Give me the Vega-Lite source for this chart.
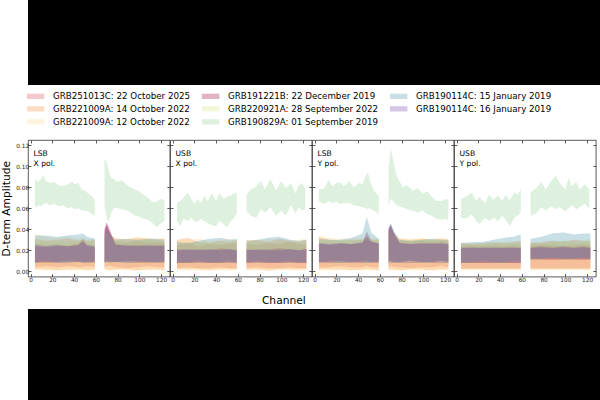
{
  "$schema": "https://vega.github.io/schema/vega-lite/v6.json",
  "padding": 0,
  "background": "white",
  "spacing": 0,
  "config": {
    "font": "DejaVu Sans",
    "view": {"stroke": "#333333", "strokeWidth": 0.8},
    "axis": {
      "grid": false, "domain": false, "tickColor": "#333333", "tickSize": -3, "tickWidth": 0.8, "minExtent": 0,
      "labelFont": "DejaVu Sans", "labelFontSize": 5.8, "labelColor": "#222222", "labelPadding": 2.4,
      "titleFont": "DejaVu Sans", "titleFontWeight": "normal", "titleColor": "#000000", "labelFlush": false
    },
    "legend": {
      "symbolType": "M-2.175,-0.66H2.175V0.66H-2.175Z", "symbolSize": 64, "symbolOpacity": 0.3,
      "symbolStrokeWidth": 0, "labelFont": "DejaVu Sans", "labelFontSize": 8.7, "labelColor": "#000000",
      "labelOffset": 12.9, "rowPadding": 3.0, "columnPadding": 11, "padding": 0, "labelLimit": 300
    }
  },
  "datasets": {
    "LX": [
      {"s":"A","g":1,"c":4,"l":0.004,"h":0.026},{"s":"A","g":1,"c":14,"l":0.005,"h":0.025},{"s":"A","g":1,"c":24,"l":0.004,"h":0.026},{"s":"A","g":1,"c":34,"l":0.005,"h":0.025},{"s":"A","g":1,"c":44,"l":0.004,"h":0.027},{"s":"A","g":1,"c":48,"l":0.004,"h":0.029},{"s":"A","g":1,"c":52,"l":0.005,"h":0.026},{"s":"A","g":1,"c":59,"l":0.004,"h":0.025},
      {"s":"A","g":2,"c":68,"l":0.004,"h":0.037},{"s":"A","g":2,"c":70,"l":0.005,"h":0.045},{"s":"A","g":2,"c":73,"l":0.005,"h":0.036},{"s":"A","g":2,"c":78,"l":0.004,"h":0.028},{"s":"A","g":2,"c":88,"l":0.003,"h":0.027},{"s":"A","g":2,"c":98,"l":0.004,"h":0.029},{"s":"A","g":2,"c":108,"l":0.005,"h":0.027},{"s":"A","g":2,"c":116,"l":0.004,"h":0.028},{"s":"A","g":2,"c":123,"l":0.004,"h":0.027},
      {"s":"B","g":1,"c":4,"l":0.002,"h":0.031},{"s":"B","g":1,"c":14,"l":0.002,"h":0.029},{"s":"B","g":1,"c":24,"l":0.001,"h":0.030},{"s":"B","g":1,"c":34,"l":0.002,"h":0.031},{"s":"B","g":1,"c":44,"l":0.002,"h":0.029},{"s":"B","g":1,"c":48,"l":0.002,"h":0.030},{"s":"B","g":1,"c":52,"l":0.001,"h":0.029},{"s":"B","g":1,"c":59,"l":0.002,"h":0.030},
      {"s":"B","g":2,"c":68,"l":0.002,"h":0.034},{"s":"B","g":2,"c":70,"l":0.002,"h":0.041},{"s":"B","g":2,"c":73,"l":0.001,"h":0.035},{"s":"B","g":2,"c":78,"l":0.002,"h":0.031},{"s":"B","g":2,"c":88,"l":0.002,"h":0.030},{"s":"B","g":2,"c":98,"l":0.001,"h":0.032},{"s":"B","g":2,"c":108,"l":0.002,"h":0.031},{"s":"B","g":2,"c":116,"l":0.002,"h":0.030},{"s":"B","g":2,"c":123,"l":0.001,"h":0.031},
      {"s":"C","g":1,"c":4,"l":0.001,"h":0.036},{"s":"C","g":1,"c":14,"l":0.0005,"h":0.033},{"s":"C","g":1,"c":24,"l":0.001,"h":0.032},{"s":"C","g":1,"c":34,"l":0.001,"h":0.033},{"s":"C","g":1,"c":44,"l":0.0005,"h":0.031},{"s":"C","g":1,"c":48,"l":0.001,"h":0.032},{"s":"C","g":1,"c":52,"l":0.001,"h":0.030},{"s":"C","g":1,"c":59,"l":0.0005,"h":0.031},
      {"s":"C","g":2,"c":68,"l":0.001,"h":0.034},{"s":"C","g":2,"c":70,"l":0.001,"h":0.039},{"s":"C","g":2,"c":73,"l":0.0005,"h":0.034},{"s":"C","g":2,"c":78,"l":0.001,"h":0.032},{"s":"C","g":2,"c":88,"l":0.001,"h":0.031},{"s":"C","g":2,"c":98,"l":0.0005,"h":0.033},{"s":"C","g":2,"c":108,"l":0.001,"h":0.032},{"s":"C","g":2,"c":116,"l":0.001,"h":0.031},{"s":"C","g":2,"c":123,"l":0.0005,"h":0.032},
      {"s":"D","g":1,"c":4,"l":0.009,"h":0.024},{"s":"D","g":1,"c":14,"l":0.008,"h":0.023},{"s":"D","g":1,"c":24,"l":0.009,"h":0.024},{"s":"D","g":1,"c":34,"l":0.010,"h":0.024},{"s":"D","g":1,"c":44,"l":0.009,"h":0.025},{"s":"D","g":1,"c":48,"l":0.009,"h":0.031},{"s":"D","g":1,"c":52,"l":0.009,"h":0.024},{"s":"D","g":1,"c":59,"l":0.008,"h":0.023},
      {"s":"D","g":2,"c":68,"l":0.009,"h":0.041},{"s":"D","g":2,"c":70,"l":0.010,"h":0.047},{"s":"D","g":2,"c":73,"l":0.009,"h":0.039},{"s":"D","g":2,"c":78,"l":0.009,"h":0.026},{"s":"D","g":2,"c":88,"l":0.010,"h":0.024},{"s":"D","g":2,"c":98,"l":0.009,"h":0.025},{"s":"D","g":2,"c":108,"l":0.008,"h":0.024},{"s":"D","g":2,"c":116,"l":0.009,"h":0.025},{"s":"D","g":2,"c":123,"l":0.009,"h":0.024},
      {"s":"E","g":1,"c":4,"l":0.008,"h":0.029},{"s":"E","g":1,"c":14,"l":0.007,"h":0.028},{"s":"E","g":1,"c":24,"l":0.008,"h":0.029},{"s":"E","g":1,"c":34,"l":0.008,"h":0.028},{"s":"E","g":1,"c":44,"l":0.007,"h":0.029},{"s":"E","g":1,"c":48,"l":0.008,"h":0.030},{"s":"E","g":1,"c":52,"l":0.008,"h":0.028},{"s":"E","g":1,"c":59,"l":0.007,"h":0.029},
      {"s":"E","g":2,"c":68,"l":0.008,"h":0.033},{"s":"E","g":2,"c":70,"l":0.008,"h":0.038},{"s":"E","g":2,"c":73,"l":0.007,"h":0.033},{"s":"E","g":2,"c":78,"l":0.008,"h":0.029},{"s":"E","g":2,"c":88,"l":0.008,"h":0.028},{"s":"E","g":2,"c":98,"l":0.007,"h":0.029},{"s":"E","g":2,"c":108,"l":0.008,"h":0.030},{"s":"E","g":2,"c":116,"l":0.008,"h":0.029},{"s":"E","g":2,"c":123,"l":0.007,"h":0.028},
      {"s":"F","g":1,"c":4,"l":0.061,"h":0.088},{"s":"F","g":1,"c":7,"l":0.063,"h":0.085},{"s":"F","g":1,"c":10,"l":0.062,"h":0.089},{"s":"F","g":1,"c":12,"l":0.064,"h":0.092},{"s":"F","g":1,"c":14,"l":0.065,"h":0.086},{"s":"F","g":1,"c":18,"l":0.063,"h":0.084},{"s":"F","g":1,"c":22,"l":0.064,"h":0.085},{"s":"F","g":1,"c":26,"l":0.062,"h":0.082},{"s":"F","g":1,"c":30,"l":0.063,"h":0.081},{"s":"F","g":1,"c":34,"l":0.060,"h":0.083},{"s":"F","g":1,"c":38,"l":0.061,"h":0.085},{"s":"F","g":1,"c":41,"l":0.059,"h":0.083},{"s":"F","g":1,"c":44,"l":0.060,"h":0.084},{"s":"F","g":1,"c":47,"l":0.058,"h":0.078},{"s":"F","g":1,"c":50,"l":0.058,"h":0.077},{"s":"F","g":1,"c":53,"l":0.057,"h":0.074},{"s":"F","g":1,"c":56,"l":0.055,"h":0.072},{"s":"F","g":1,"c":59,"l":0.053,"h":0.068},
      {"s":"F","g":2,"c":68,"l":0.062,"h":0.107},{"s":"F","g":2,"c":70,"l":0.050,"h":0.104},{"s":"F","g":2,"c":72,"l":0.047,"h":0.095},{"s":"F","g":2,"c":74,"l":0.055,"h":0.089},{"s":"F","g":2,"c":77,"l":0.061,"h":0.088},{"s":"F","g":2,"c":80,"l":0.060,"h":0.085},{"s":"F","g":2,"c":84,"l":0.059,"h":0.087},{"s":"F","g":2,"c":88,"l":0.058,"h":0.083},{"s":"F","g":2,"c":92,"l":0.056,"h":0.080},{"s":"F","g":2,"c":96,"l":0.053,"h":0.078},{"s":"F","g":2,"c":100,"l":0.052,"h":0.076},{"s":"F","g":2,"c":104,"l":0.050,"h":0.073},{"s":"F","g":2,"c":108,"l":0.049,"h":0.070},{"s":"F","g":2,"c":112,"l":0.046,"h":0.066},{"s":"F","g":2,"c":116,"l":0.042,"h":0.066},{"s":"F","g":2,"c":119,"l":0.045,"h":0.069},{"s":"F","g":2,"c":123,"l":0.048,"h":0.068},
      {"s":"G","g":1,"c":4,"l":0.009,"h":0.034},{"s":"G","g":1,"c":14,"l":0.010,"h":0.034},{"s":"G","g":1,"c":24,"l":0.009,"h":0.033},{"s":"G","g":1,"c":34,"l":0.009,"h":0.034},{"s":"G","g":1,"c":44,"l":0.010,"h":0.035},{"s":"G","g":1,"c":48,"l":0.009,"h":0.036},{"s":"G","g":1,"c":52,"l":0.009,"h":0.033},{"s":"G","g":1,"c":59,"l":0.010,"h":0.031},
      {"s":"G","g":2,"c":68,"l":0.009,"h":0.033},{"s":"G","g":2,"c":70,"l":0.009,"h":0.040},{"s":"G","g":2,"c":73,"l":0.010,"h":0.034},{"s":"G","g":2,"c":78,"l":0.009,"h":0.030},{"s":"G","g":2,"c":88,"l":0.009,"h":0.031},{"s":"G","g":2,"c":98,"l":0.010,"h":0.030},{"s":"G","g":2,"c":108,"l":0.009,"h":0.031},{"s":"G","g":2,"c":116,"l":0.009,"h":0.031},{"s":"G","g":2,"c":123,"l":0.010,"h":0.030},
      {"s":"H","g":1,"c":4,"l":0.008,"h":0.025},{"s":"H","g":1,"c":14,"l":0.009,"h":0.024},{"s":"H","g":1,"c":24,"l":0.008,"h":0.025},{"s":"H","g":1,"c":34,"l":0.008,"h":0.024},{"s":"H","g":1,"c":44,"l":0.009,"h":0.025},{"s":"H","g":1,"c":48,"l":0.008,"h":0.028},{"s":"H","g":1,"c":52,"l":0.008,"h":0.025},{"s":"H","g":1,"c":59,"l":0.009,"h":0.024},
      {"s":"H","g":2,"c":68,"l":0.008,"h":0.039},{"s":"H","g":2,"c":70,"l":0.009,"h":0.044},{"s":"H","g":2,"c":73,"l":0.008,"h":0.037},{"s":"H","g":2,"c":78,"l":0.009,"h":0.025},{"s":"H","g":2,"c":88,"l":0.008,"h":0.025},{"s":"H","g":2,"c":98,"l":0.008,"h":0.024},{"s":"H","g":2,"c":108,"l":0.009,"h":0.025},{"s":"H","g":2,"c":116,"l":0.008,"h":0.024},{"s":"H","g":2,"c":123,"l":0.008,"h":0.025}
    ],
    "UX": [
      {"s":"A","g":1,"c":4,"l":0.003,"h":0.025},{"s":"A","g":1,"c":14,"l":0.004,"h":0.027},{"s":"A","g":1,"c":24,"l":0.003,"h":0.024},{"s":"A","g":1,"c":34,"l":0.003,"h":0.026},{"s":"A","g":1,"c":44,"l":0.004,"h":0.025},{"s":"A","g":1,"c":52,"l":0.003,"h":0.026},{"s":"A","g":1,"c":59,"l":0.003,"h":0.027},
      {"s":"A","g":2,"c":68,"l":0.003,"h":0.026},{"s":"A","g":2,"c":78,"l":0.004,"h":0.025},{"s":"A","g":2,"c":88,"l":0.003,"h":0.027},{"s":"A","g":2,"c":98,"l":0.003,"h":0.026},{"s":"A","g":2,"c":108,"l":0.004,"h":0.028},{"s":"A","g":2,"c":116,"l":0.003,"h":0.026},{"s":"A","g":2,"c":123,"l":0.003,"h":0.025},
      {"s":"B","g":1,"c":4,"l":0.002,"h":0.030},{"s":"B","g":1,"c":14,"l":0.002,"h":0.032},{"s":"B","g":1,"c":24,"l":0.002,"h":0.028},{"s":"B","g":1,"c":34,"l":0.001,"h":0.027},{"s":"B","g":1,"c":44,"l":0.002,"h":0.029},{"s":"B","g":1,"c":52,"l":0.002,"h":0.028},{"s":"B","g":1,"c":59,"l":0.002,"h":0.030},
      {"s":"B","g":2,"c":68,"l":0.002,"h":0.029},{"s":"B","g":2,"c":78,"l":0.002,"h":0.030},{"s":"B","g":2,"c":88,"l":0.001,"h":0.028},{"s":"B","g":2,"c":98,"l":0.002,"h":0.031},{"s":"B","g":2,"c":108,"l":0.002,"h":0.029},{"s":"B","g":2,"c":116,"l":0.002,"h":0.028},{"s":"B","g":2,"c":123,"l":0.002,"h":0.030},
      {"s":"C","g":1,"c":4,"l":0.001,"h":0.029},{"s":"C","g":1,"c":14,"l":0.001,"h":0.030},{"s":"C","g":1,"c":24,"l":0.0005,"h":0.031},{"s":"C","g":1,"c":34,"l":0.001,"h":0.029},{"s":"C","g":1,"c":44,"l":0.001,"h":0.030},{"s":"C","g":1,"c":52,"l":0.0005,"h":0.031},{"s":"C","g":1,"c":59,"l":0.001,"h":0.029},
      {"s":"C","g":2,"c":68,"l":0.001,"h":0.030},{"s":"C","g":2,"c":78,"l":0.001,"h":0.029},{"s":"C","g":2,"c":88,"l":0.0005,"h":0.031},{"s":"C","g":2,"c":98,"l":0.001,"h":0.030},{"s":"C","g":2,"c":108,"l":0.001,"h":0.029},{"s":"C","g":2,"c":116,"l":0.0005,"h":0.030},{"s":"C","g":2,"c":123,"l":0.001,"h":0.031},
      {"s":"D","g":1,"c":4,"l":0.008,"h":0.021},{"s":"D","g":1,"c":14,"l":0.008,"h":0.020},{"s":"D","g":1,"c":24,"l":0.009,"h":0.021},{"s":"D","g":1,"c":34,"l":0.008,"h":0.020},{"s":"D","g":1,"c":44,"l":0.008,"h":0.022},{"s":"D","g":1,"c":52,"l":0.009,"h":0.021},{"s":"D","g":1,"c":59,"l":0.008,"h":0.020},
      {"s":"D","g":2,"c":68,"l":0.008,"h":0.021},{"s":"D","g":2,"c":78,"l":0.009,"h":0.020},{"s":"D","g":2,"c":88,"l":0.008,"h":0.021},{"s":"D","g":2,"c":98,"l":0.008,"h":0.022},{"s":"D","g":2,"c":108,"l":0.009,"h":0.021},{"s":"D","g":2,"c":116,"l":0.008,"h":0.020},{"s":"D","g":2,"c":123,"l":0.008,"h":0.021},
      {"s":"E","g":1,"c":4,"l":0.008,"h":0.027},{"s":"E","g":1,"c":14,"l":0.007,"h":0.026},{"s":"E","g":1,"c":24,"l":0.008,"h":0.028},{"s":"E","g":1,"c":34,"l":0.008,"h":0.027},{"s":"E","g":1,"c":44,"l":0.007,"h":0.026},{"s":"E","g":1,"c":52,"l":0.008,"h":0.027},{"s":"E","g":1,"c":59,"l":0.008,"h":0.028},
      {"s":"E","g":2,"c":68,"l":0.008,"h":0.027},{"s":"E","g":2,"c":78,"l":0.007,"h":0.028},{"s":"E","g":2,"c":88,"l":0.008,"h":0.026},{"s":"E","g":2,"c":98,"l":0.008,"h":0.027},{"s":"E","g":2,"c":108,"l":0.007,"h":0.028},{"s":"E","g":2,"c":116,"l":0.008,"h":0.027},{"s":"E","g":2,"c":123,"l":0.008,"h":0.026},
      {"s":"F","g":1,"c":4,"l":0.048,"h":0.065},{"s":"F","g":1,"c":7,"l":0.043,"h":0.067},{"s":"F","g":1,"c":10,"l":0.050,"h":0.070},{"s":"F","g":1,"c":14,"l":0.048,"h":0.075},{"s":"F","g":1,"c":17,"l":0.051,"h":0.069},{"s":"F","g":1,"c":20,"l":0.048,"h":0.064},{"s":"F","g":1,"c":23,"l":0.047,"h":0.069},{"s":"F","g":1,"c":26,"l":0.050,"h":0.065},{"s":"F","g":1,"c":29,"l":0.048,"h":0.072},{"s":"F","g":1,"c":32,"l":0.046,"h":0.067},{"s":"F","g":1,"c":36,"l":0.044,"h":0.074},{"s":"F","g":1,"c":40,"l":0.043,"h":0.067},{"s":"F","g":1,"c":43,"l":0.048,"h":0.074},{"s":"F","g":1,"c":47,"l":0.045,"h":0.069},{"s":"F","g":1,"c":50,"l":0.042,"h":0.071},{"s":"F","g":1,"c":53,"l":0.047,"h":0.072},{"s":"F","g":1,"c":56,"l":0.050,"h":0.074},{"s":"F","g":1,"c":59,"l":0.055,"h":0.075},
      {"s":"F","g":2,"c":68,"l":0.058,"h":0.073},{"s":"F","g":2,"c":72,"l":0.053,"h":0.078},{"s":"F","g":2,"c":77,"l":0.051,"h":0.081},{"s":"F","g":2,"c":81,"l":0.059,"h":0.086},{"s":"F","g":2,"c":85,"l":0.056,"h":0.078},{"s":"F","g":2,"c":90,"l":0.061,"h":0.088},{"s":"F","g":2,"c":95,"l":0.053,"h":0.077},{"s":"F","g":2,"c":100,"l":0.058,"h":0.086},{"s":"F","g":2,"c":104,"l":0.053,"h":0.079},{"s":"F","g":2,"c":109,"l":0.063,"h":0.084},{"s":"F","g":2,"c":113,"l":0.055,"h":0.074},{"s":"F","g":2,"c":116,"l":0.061,"h":0.082},{"s":"F","g":2,"c":119,"l":0.058,"h":0.084},{"s":"F","g":2,"c":122,"l":0.059,"h":0.079},
      {"s":"G","g":1,"c":4,"l":0.009,"h":0.028},{"s":"G","g":1,"c":14,"l":0.009,"h":0.027},{"s":"G","g":1,"c":24,"l":0.010,"h":0.029},{"s":"G","g":1,"c":34,"l":0.009,"h":0.031},{"s":"G","g":1,"c":44,"l":0.009,"h":0.032},{"s":"G","g":1,"c":52,"l":0.010,"h":0.030},{"s":"G","g":1,"c":59,"l":0.009,"h":0.031},
      {"s":"G","g":2,"c":68,"l":0.009,"h":0.029},{"s":"G","g":2,"c":78,"l":0.010,"h":0.030},{"s":"G","g":2,"c":88,"l":0.009,"h":0.032},{"s":"G","g":2,"c":98,"l":0.009,"h":0.033},{"s":"G","g":2,"c":108,"l":0.010,"h":0.030},{"s":"G","g":2,"c":116,"l":0.009,"h":0.029},{"s":"G","g":2,"c":123,"l":0.009,"h":0.030},
      {"s":"H","g":1,"c":4,"l":0.008,"h":0.020},{"s":"H","g":1,"c":14,"l":0.008,"h":0.021},{"s":"H","g":1,"c":24,"l":0.008,"h":0.020},{"s":"H","g":1,"c":34,"l":0.008,"h":0.021},{"s":"H","g":1,"c":44,"l":0.008,"h":0.020},{"s":"H","g":1,"c":52,"l":0.008,"h":0.021},{"s":"H","g":1,"c":59,"l":0.008,"h":0.020},
      {"s":"H","g":2,"c":68,"l":0.008,"h":0.020},{"s":"H","g":2,"c":78,"l":0.008,"h":0.021},{"s":"H","g":2,"c":88,"l":0.008,"h":0.020},{"s":"H","g":2,"c":98,"l":0.008,"h":0.020},{"s":"H","g":2,"c":108,"l":0.008,"h":0.021},{"s":"H","g":2,"c":116,"l":0.008,"h":0.020},{"s":"H","g":2,"c":123,"l":0.008,"h":0.021}
    ],
    "LY": [
      {"s":"A","g":1,"c":4,"l":0.004,"h":0.027},{"s":"A","g":1,"c":14,"l":0.004,"h":0.026},{"s":"A","g":1,"c":24,"l":0.005,"h":0.027},{"s":"A","g":1,"c":34,"l":0.004,"h":0.026},{"s":"A","g":1,"c":44,"l":0.004,"h":0.027},{"s":"A","g":1,"c":48,"l":0.005,"h":0.030},{"s":"A","g":1,"c":52,"l":0.004,"h":0.028},{"s":"A","g":1,"c":59,"l":0.004,"h":0.027},
      {"s":"A","g":2,"c":68,"l":0.004,"h":0.036},{"s":"A","g":2,"c":70,"l":0.005,"h":0.041},{"s":"A","g":2,"c":73,"l":0.004,"h":0.034},{"s":"A","g":2,"c":78,"l":0.004,"h":0.029},{"s":"A","g":2,"c":88,"l":0.003,"h":0.028},{"s":"A","g":2,"c":98,"l":0.004,"h":0.029},{"s":"A","g":2,"c":108,"l":0.004,"h":0.028},{"s":"A","g":2,"c":116,"l":0.005,"h":0.029},{"s":"A","g":2,"c":123,"l":0.004,"h":0.028},
      {"s":"B","g":1,"c":4,"l":0.002,"h":0.033},{"s":"B","g":1,"c":14,"l":0.002,"h":0.030},{"s":"B","g":1,"c":24,"l":0.002,"h":0.029},{"s":"B","g":1,"c":34,"l":0.001,"h":0.030},{"s":"B","g":1,"c":44,"l":0.002,"h":0.030},{"s":"B","g":1,"c":48,"l":0.002,"h":0.031},{"s":"B","g":1,"c":52,"l":0.002,"h":0.030},{"s":"B","g":1,"c":59,"l":0.001,"h":0.030},
      {"s":"B","g":2,"c":68,"l":0.002,"h":0.038},{"s":"B","g":2,"c":70,"l":0.002,"h":0.042},{"s":"B","g":2,"c":73,"l":0.002,"h":0.036},{"s":"B","g":2,"c":78,"l":0.001,"h":0.031},{"s":"B","g":2,"c":88,"l":0.002,"h":0.030},{"s":"B","g":2,"c":98,"l":0.002,"h":0.031},{"s":"B","g":2,"c":108,"l":0.001,"h":0.030},{"s":"B","g":2,"c":116,"l":0.002,"h":0.031},{"s":"B","g":2,"c":123,"l":0.002,"h":0.030},
      {"s":"C","g":1,"c":4,"l":0.001,"h":0.034},{"s":"C","g":1,"c":14,"l":0.0005,"h":0.032},{"s":"C","g":1,"c":24,"l":0.001,"h":0.031},{"s":"C","g":1,"c":34,"l":0.001,"h":0.031},{"s":"C","g":1,"c":44,"l":0.0005,"h":0.032},{"s":"C","g":1,"c":48,"l":0.001,"h":0.033},{"s":"C","g":1,"c":52,"l":0.0005,"h":0.032},{"s":"C","g":1,"c":59,"l":0.001,"h":0.031},
      {"s":"C","g":2,"c":68,"l":0.001,"h":0.040},{"s":"C","g":2,"c":70,"l":0.001,"h":0.043},{"s":"C","g":2,"c":73,"l":0.0005,"h":0.037},{"s":"C","g":2,"c":78,"l":0.001,"h":0.032},{"s":"C","g":2,"c":88,"l":0.001,"h":0.031},{"s":"C","g":2,"c":98,"l":0.0005,"h":0.032},{"s":"C","g":2,"c":108,"l":0.001,"h":0.031},{"s":"C","g":2,"c":116,"l":0.001,"h":0.032},{"s":"C","g":2,"c":123,"l":0.0005,"h":0.031},
      {"s":"D","g":1,"c":4,"l":0.009,"h":0.026},{"s":"D","g":1,"c":14,"l":0.009,"h":0.025},{"s":"D","g":1,"c":24,"l":0.010,"h":0.026},{"s":"D","g":1,"c":34,"l":0.009,"h":0.026},{"s":"D","g":1,"c":44,"l":0.009,"h":0.027},{"s":"D","g":1,"c":48,"l":0.010,"h":0.038},{"s":"D","g":1,"c":52,"l":0.009,"h":0.029},{"s":"D","g":1,"c":59,"l":0.009,"h":0.026},
      {"s":"D","g":2,"c":68,"l":0.010,"h":0.040},{"s":"D","g":2,"c":70,"l":0.010,"h":0.044},{"s":"D","g":2,"c":73,"l":0.009,"h":0.036},{"s":"D","g":2,"c":78,"l":0.009,"h":0.027},{"s":"D","g":2,"c":88,"l":0.010,"h":0.026},{"s":"D","g":2,"c":98,"l":0.009,"h":0.026},{"s":"D","g":2,"c":108,"l":0.009,"h":0.027},{"s":"D","g":2,"c":116,"l":0.010,"h":0.026},{"s":"D","g":2,"c":123,"l":0.009,"h":0.026},
      {"s":"E","g":1,"c":4,"l":0.008,"h":0.030},{"s":"E","g":1,"c":14,"l":0.008,"h":0.029},{"s":"E","g":1,"c":24,"l":0.007,"h":0.030},{"s":"E","g":1,"c":34,"l":0.008,"h":0.029},{"s":"E","g":1,"c":44,"l":0.008,"h":0.030},{"s":"E","g":1,"c":48,"l":0.007,"h":0.032},{"s":"E","g":1,"c":52,"l":0.008,"h":0.030},{"s":"E","g":1,"c":59,"l":0.008,"h":0.029},
      {"s":"E","g":2,"c":68,"l":0.008,"h":0.034},{"s":"E","g":2,"c":70,"l":0.008,"h":0.040},{"s":"E","g":2,"c":73,"l":0.007,"h":0.034},{"s":"E","g":2,"c":78,"l":0.008,"h":0.030},{"s":"E","g":2,"c":88,"l":0.008,"h":0.029},{"s":"E","g":2,"c":98,"l":0.007,"h":0.030},{"s":"E","g":2,"c":108,"l":0.008,"h":0.030},{"s":"E","g":2,"c":116,"l":0.008,"h":0.029},{"s":"E","g":2,"c":123,"l":0.007,"h":0.029},
      {"s":"F","g":1,"c":4,"l":0.066,"h":0.078},{"s":"F","g":1,"c":9,"l":0.064,"h":0.079},{"s":"F","g":1,"c":13,"l":0.067,"h":0.087},{"s":"F","g":1,"c":16,"l":0.065,"h":0.081},{"s":"F","g":1,"c":20,"l":0.066,"h":0.084},{"s":"F","g":1,"c":23,"l":0.064,"h":0.085},{"s":"F","g":1,"c":27,"l":0.065,"h":0.081},{"s":"F","g":1,"c":32,"l":0.065,"h":0.086},{"s":"F","g":1,"c":36,"l":0.063,"h":0.080},{"s":"F","g":1,"c":41,"l":0.062,"h":0.084},{"s":"F","g":1,"c":44,"l":0.061,"h":0.083},{"s":"F","g":1,"c":47,"l":0.060,"h":0.091},{"s":"F","g":1,"c":49,"l":0.059,"h":0.094},{"s":"F","g":1,"c":51,"l":0.060,"h":0.086},{"s":"F","g":1,"c":54,"l":0.058,"h":0.078},{"s":"F","g":1,"c":57,"l":0.056,"h":0.074},{"s":"F","g":1,"c":59,"l":0.054,"h":0.072},
      {"s":"F","g":2,"c":68,"l":0.063,"h":0.098},{"s":"F","g":2,"c":70,"l":0.069,"h":0.117},{"s":"F","g":2,"c":72,"l":0.067,"h":0.108},{"s":"F","g":2,"c":75,"l":0.063,"h":0.092},{"s":"F","g":2,"c":78,"l":0.062,"h":0.086},{"s":"F","g":2,"c":81,"l":0.061,"h":0.080},{"s":"F","g":2,"c":85,"l":0.059,"h":0.082},{"s":"F","g":2,"c":90,"l":0.058,"h":0.077},{"s":"F","g":2,"c":95,"l":0.056,"h":0.079},{"s":"F","g":2,"c":99,"l":0.058,"h":0.074},{"s":"F","g":2,"c":104,"l":0.054,"h":0.076},{"s":"F","g":2,"c":108,"l":0.053,"h":0.071},{"s":"F","g":2,"c":112,"l":0.050,"h":0.067},{"s":"F","g":2,"c":117,"l":0.049,"h":0.067},{"s":"F","g":2,"c":121,"l":0.050,"h":0.069},{"s":"F","g":2,"c":123,"l":0.048,"h":0.068},
      {"s":"G","g":1,"c":4,"l":0.009,"h":0.031},{"s":"G","g":1,"c":14,"l":0.010,"h":0.030},{"s":"G","g":1,"c":24,"l":0.009,"h":0.030},{"s":"G","g":1,"c":34,"l":0.009,"h":0.032},{"s":"G","g":1,"c":44,"l":0.010,"h":0.036},{"s":"G","g":1,"c":48,"l":0.009,"h":0.052},{"s":"G","g":1,"c":52,"l":0.009,"h":0.037},{"s":"G","g":1,"c":59,"l":0.010,"h":0.031},
      {"s":"G","g":2,"c":68,"l":0.009,"h":0.040},{"s":"G","g":2,"c":70,"l":0.010,"h":0.046},{"s":"G","g":2,"c":73,"l":0.009,"h":0.038},{"s":"G","g":2,"c":78,"l":0.009,"h":0.030},{"s":"G","g":2,"c":88,"l":0.010,"h":0.029},{"s":"G","g":2,"c":98,"l":0.009,"h":0.030},{"s":"G","g":2,"c":108,"l":0.009,"h":0.031},{"s":"G","g":2,"c":116,"l":0.010,"h":0.030},{"s":"G","g":2,"c":123,"l":0.009,"h":0.030},
      {"s":"H","g":1,"c":4,"l":0.008,"h":0.027},{"s":"H","g":1,"c":14,"l":0.008,"h":0.026},{"s":"H","g":1,"c":24,"l":0.008,"h":0.027},{"s":"H","g":1,"c":34,"l":0.008,"h":0.026},{"s":"H","g":1,"c":44,"l":0.008,"h":0.028},{"s":"H","g":1,"c":48,"l":0.008,"h":0.033},{"s":"H","g":1,"c":52,"l":0.008,"h":0.028},{"s":"H","g":1,"c":59,"l":0.008,"h":0.027},
      {"s":"H","g":2,"c":68,"l":0.008,"h":0.042},{"s":"H","g":2,"c":70,"l":0.008,"h":0.045},{"s":"H","g":2,"c":73,"l":0.008,"h":0.037},{"s":"H","g":2,"c":78,"l":0.008,"h":0.027},{"s":"H","g":2,"c":88,"l":0.008,"h":0.026},{"s":"H","g":2,"c":98,"l":0.008,"h":0.027},{"s":"H","g":2,"c":108,"l":0.008,"h":0.026},{"s":"H","g":2,"c":116,"l":0.008,"h":0.027},{"s":"H","g":2,"c":123,"l":0.008,"h":0.026}
    ],
    "UY": [
      {"s":"A","g":1,"c":4,"l":0.003,"h":0.024},{"s":"A","g":1,"c":14,"l":0.003,"h":0.025},{"s":"A","g":1,"c":24,"l":0.003,"h":0.024},{"s":"A","g":1,"c":34,"l":0.003,"h":0.025},{"s":"A","g":1,"c":44,"l":0.003,"h":0.024},{"s":"A","g":1,"c":52,"l":0.003,"h":0.025},{"s":"A","g":1,"c":59,"l":0.003,"h":0.024},
      {"s":"A","g":2,"c":68,"l":0.003,"h":0.025},{"s":"A","g":2,"c":78,"l":0.003,"h":0.026},{"s":"A","g":2,"c":88,"l":0.003,"h":0.025},{"s":"A","g":2,"c":98,"l":0.003,"h":0.024},{"s":"A","g":2,"c":108,"l":0.003,"h":0.025},{"s":"A","g":2,"c":116,"l":0.003,"h":0.026},{"s":"A","g":2,"c":123,"l":0.003,"h":0.025},
      {"s":"B","g":1,"c":4,"l":0.002,"h":0.027},{"s":"B","g":1,"c":14,"l":0.002,"h":0.026},{"s":"B","g":1,"c":24,"l":0.002,"h":0.027},{"s":"B","g":1,"c":34,"l":0.002,"h":0.028},{"s":"B","g":1,"c":44,"l":0.002,"h":0.027},{"s":"B","g":1,"c":52,"l":0.002,"h":0.028},{"s":"B","g":1,"c":59,"l":0.002,"h":0.029},
      {"s":"B","g":2,"c":68,"l":0.002,"h":0.027},{"s":"B","g":2,"c":78,"l":0.002,"h":0.028},{"s":"B","g":2,"c":88,"l":0.002,"h":0.029},{"s":"B","g":2,"c":98,"l":0.002,"h":0.028},{"s":"B","g":2,"c":108,"l":0.002,"h":0.030},{"s":"B","g":2,"c":116,"l":0.002,"h":0.029},{"s":"B","g":2,"c":123,"l":0.002,"h":0.028},
      {"s":"C","g":1,"c":4,"l":0.001,"h":0.026},{"s":"C","g":1,"c":14,"l":0.001,"h":0.027},{"s":"C","g":1,"c":24,"l":0.001,"h":0.026},{"s":"C","g":1,"c":34,"l":0.001,"h":0.027},{"s":"C","g":1,"c":44,"l":0.001,"h":0.028},{"s":"C","g":1,"c":52,"l":0.001,"h":0.027},{"s":"C","g":1,"c":59,"l":0.001,"h":0.028},
      {"s":"C","g":2,"c":68,"l":0.001,"h":0.028},{"s":"C","g":2,"c":78,"l":0.001,"h":0.027},{"s":"C","g":2,"c":88,"l":0.001,"h":0.028},{"s":"C","g":2,"c":98,"l":0.001,"h":0.029},{"s":"C","g":2,"c":108,"l":0.001,"h":0.028},{"s":"C","g":2,"c":116,"l":0.001,"h":0.029},{"s":"C","g":2,"c":123,"l":0.001,"h":0.030},
      {"s":"D","g":1,"c":4,"l":0.008,"h":0.023},{"s":"D","g":1,"c":14,"l":0.008,"h":0.022},{"s":"D","g":1,"c":24,"l":0.008,"h":0.023},{"s":"D","g":1,"c":34,"l":0.008,"h":0.022},{"s":"D","g":1,"c":44,"l":0.008,"h":0.023},{"s":"D","g":1,"c":52,"l":0.008,"h":0.022},{"s":"D","g":1,"c":59,"l":0.008,"h":0.023},
      {"s":"D","g":2,"c":68,"l":0.011,"h":0.023},{"s":"D","g":2,"c":78,"l":0.011,"h":0.024},{"s":"D","g":2,"c":88,"l":0.011,"h":0.023},{"s":"D","g":2,"c":98,"l":0.011,"h":0.024},{"s":"D","g":2,"c":108,"l":0.011,"h":0.023},{"s":"D","g":2,"c":116,"l":0.011,"h":0.024},{"s":"D","g":2,"c":123,"l":0.011,"h":0.023},
      {"s":"E","g":1,"c":4,"l":0.008,"h":0.026},{"s":"E","g":1,"c":14,"l":0.007,"h":0.025},{"s":"E","g":1,"c":24,"l":0.008,"h":0.026},{"s":"E","g":1,"c":34,"l":0.008,"h":0.027},{"s":"E","g":1,"c":44,"l":0.007,"h":0.026},{"s":"E","g":1,"c":52,"l":0.008,"h":0.027},{"s":"E","g":1,"c":59,"l":0.008,"h":0.027},
      {"s":"E","g":2,"c":68,"l":0.011,"h":0.027},{"s":"E","g":2,"c":78,"l":0.011,"h":0.026},{"s":"E","g":2,"c":88,"l":0.012,"h":0.028},{"s":"E","g":2,"c":98,"l":0.011,"h":0.029},{"s":"E","g":2,"c":108,"l":0.011,"h":0.027},{"s":"E","g":2,"c":116,"l":0.012,"h":0.028},{"s":"E","g":2,"c":123,"l":0.011,"h":0.029},
      {"s":"F","g":1,"c":4,"l":0.051,"h":0.069},{"s":"F","g":1,"c":9,"l":0.050,"h":0.071},{"s":"F","g":1,"c":14,"l":0.054,"h":0.075},{"s":"F","g":1,"c":18,"l":0.048,"h":0.067},{"s":"F","g":1,"c":21,"l":0.045,"h":0.071},{"s":"F","g":1,"c":26,"l":0.051,"h":0.065},{"s":"F","g":1,"c":30,"l":0.048,"h":0.073},{"s":"F","g":1,"c":34,"l":0.051,"h":0.068},{"s":"F","g":1,"c":38,"l":0.048,"h":0.072},{"s":"F","g":1,"c":42,"l":0.053,"h":0.067},{"s":"F","g":1,"c":45,"l":0.049,"h":0.073},{"s":"F","g":1,"c":49,"l":0.043,"h":0.068},{"s":"F","g":1,"c":53,"l":0.051,"h":0.075},{"s":"F","g":1,"c":56,"l":0.053,"h":0.073},{"s":"F","g":1,"c":59,"l":0.056,"h":0.078},
      {"s":"F","g":2,"c":68,"l":0.053,"h":0.075},{"s":"F","g":2,"c":73,"l":0.055,"h":0.079},{"s":"F","g":2,"c":78,"l":0.061,"h":0.085},{"s":"F","g":2,"c":82,"l":0.058,"h":0.078},{"s":"F","g":2,"c":87,"l":0.062,"h":0.086},{"s":"F","g":2,"c":91,"l":0.059,"h":0.091},{"s":"F","g":2,"c":95,"l":0.061,"h":0.084},{"s":"F","g":2,"c":100,"l":0.057,"h":0.078},{"s":"F","g":2,"c":103,"l":0.060,"h":0.089},{"s":"F","g":2,"c":106,"l":0.063,"h":0.081},{"s":"F","g":2,"c":110,"l":0.059,"h":0.085},{"s":"F","g":2,"c":113,"l":0.061,"h":0.078},{"s":"F","g":2,"c":118,"l":0.064,"h":0.083},{"s":"F","g":2,"c":122,"l":0.060,"h":0.078},
      {"s":"G","g":1,"c":4,"l":0.009,"h":0.027},{"s":"G","g":1,"c":14,"l":0.009,"h":0.028},{"s":"G","g":1,"c":24,"l":0.010,"h":0.028},{"s":"G","g":1,"c":34,"l":0.009,"h":0.030},{"s":"G","g":1,"c":44,"l":0.009,"h":0.032},{"s":"G","g":1,"c":52,"l":0.010,"h":0.033},{"s":"G","g":1,"c":59,"l":0.009,"h":0.035},
      {"s":"G","g":2,"c":68,"l":0.012,"h":0.031},{"s":"G","g":2,"c":78,"l":0.012,"h":0.033},{"s":"G","g":2,"c":88,"l":0.013,"h":0.036},{"s":"G","g":2,"c":98,"l":0.012,"h":0.037},{"s":"G","g":2,"c":108,"l":0.012,"h":0.035},{"s":"G","g":2,"c":116,"l":0.013,"h":0.036},{"s":"G","g":2,"c":123,"l":0.012,"h":0.036},
      {"s":"H","g":1,"c":4,"l":0.008,"h":0.022},{"s":"H","g":1,"c":14,"l":0.008,"h":0.023},{"s":"H","g":1,"c":24,"l":0.008,"h":0.022},{"s":"H","g":1,"c":34,"l":0.008,"h":0.023},{"s":"H","g":1,"c":44,"l":0.008,"h":0.022},{"s":"H","g":1,"c":52,"l":0.008,"h":0.023},{"s":"H","g":1,"c":59,"l":0.008,"h":0.022},
      {"s":"H","g":2,"c":68,"l":0.012,"h":0.022},{"s":"H","g":2,"c":78,"l":0.012,"h":0.023},{"s":"H","g":2,"c":88,"l":0.012,"h":0.022},{"s":"H","g":2,"c":98,"l":0.012,"h":0.023},{"s":"H","g":2,"c":108,"l":0.012,"h":0.022},{"s":"H","g":2,"c":116,"l":0.012,"h":0.023},{"s":"H","g":2,"c":123,"l":0.012,"h":0.022}
    ]
  },
  "vconcat": [
    {"width": 600, "height": 85, "view": {"fill": "black", "stroke": null}, "data": {"values": []}, "mark": "rect", "encoding": {}},
    {"width": 600, "height": 53.3, "view": {"stroke": null}, "data": {"values": []}, "mark": "rect", "encoding": {}},
    {
      "spacing": 0,
      "bounds": "flush",
      "title": {"text": "Channel", "orient": "bottom", "anchor": "middle", "fontSize": 10.7, "fontWeight": "normal", "color": "#000000", "offset": 13.5, "dx": -14.6},
      "hconcat": [
        {
          "width": 141.8, "height": 136.6,
          "layer": [
            {
              "data": {"name": "LX"},
              "mark": {"type": "area", "fillOpacity": 0.3, "strokeWidth": 0},
              "encoding": {
                "x": {"field": "c", "type": "quantitative", "scale": {"domain": [-2.4, 128], "nice": false, "zero": false}, "axis": {"orient": "bottom", "values": [0, 20, 40, 60, 80, 100, 120], "title": null}},
                "y": {"field": "l", "type": "quantitative", "scale": {"domain": [-0.005, 0.125], "nice": false, "zero": false}, "axis": {"orient": "left", "values": [0, 0.02, 0.04, 0.06, 0.08, 0.1, 0.12], "format": ".2f", "title": "D-term Amplitude", "titleFontSize": 10.7, "titlePadding": 4}},
                "y2": {"field": "h"},
                "color": {"field": "s", "type": "nominal", "scale": {"domain": ["A", "B", "C", "D", "E", "F", "G", "H"], "range": ["#de4858", "#f58a37", "#fcd78a", "#9b0037", "#d7e182", "#91cd91", "#4696aa", "#6e46aa"]}, "legend": {"title": null, "orient": "none", "legendX": 3.3, "legendY": 91.5, "columns": 3, "labelExpr": "{'A':'GRB251013C: 22 October 2025','B':'GRB221009A: 14 October 2022','C':'GRB221009A: 12 October 2022','D':'GRB191221B: 22 December 2019','E':'GRB220921A: 28 September 2022','F':'GRB190829A: 01 September 2019','G':'GRB190114C: 15 January 2019','H':'GRB190114C: 16 January 2019'}[datum.label]"}},
                "detail": {"field": "g", "type": "nominal"}
              }
            },
            {
              "data": {"values": [{}]},
              "mark": {"type": "text", "text": ["LSB", "X pol."], "align": "left", "baseline": "alphabetic", "fontSize": 7.6, "lineHeight": 9.4, "color": "#000000"},
              "encoding": {
                "x": {"datum": 2.7, "type": "quantitative", "axis": {"orient": "top", "values": [0, 20, 40, 60, 80, 100, 120], "labels": false, "title": null}},
                "y": {"datum": 0.1093, "type": "quantitative", "axis": {"orient": "right", "values": [0, 0.02, 0.04, 0.06, 0.08, 0.1, 0.12], "labels": false, "title": null}}
              }
            }
          ],
          "resolve": {"axis": {"x": "independent", "y": "independent"}}
        },
        {
          "width": 141.8, "height": 136.6,
          "layer": [
            {
              "data": {"name": "UX"},
              "mark": {"type": "area", "fillOpacity": 0.3, "strokeWidth": 0},
              "encoding": {
                "x": {"field": "c", "type": "quantitative", "scale": {"domain": [-2.4, 128], "nice": false, "zero": false}, "axis": {"orient": "bottom", "values": [0, 20, 40, 60, 80, 100, 120], "title": null}},
                "y": {"field": "l", "type": "quantitative", "scale": {"domain": [-0.005, 0.125], "nice": false, "zero": false}, "axis": {"orient": "left", "values": [0, 0.02, 0.04, 0.06, 0.08, 0.1, 0.12], "labels": false, "title": null}},
                "y2": {"field": "h"},
                "color": {"field": "s", "type": "nominal", "scale": {"domain": ["A", "B", "C", "D", "E", "F", "G", "H"], "range": ["#de4858", "#f58a37", "#fcd78a", "#9b0037", "#d7e182", "#91cd91", "#4696aa", "#6e46aa"]}, "legend": {"title": null, "orient": "none", "legendX": 3.3, "legendY": 91.5, "columns": 3, "labelExpr": "{'A':'GRB251013C: 22 October 2025','B':'GRB221009A: 14 October 2022','C':'GRB221009A: 12 October 2022','D':'GRB191221B: 22 December 2019','E':'GRB220921A: 28 September 2022','F':'GRB190829A: 01 September 2019','G':'GRB190114C: 15 January 2019','H':'GRB190114C: 16 January 2019'}[datum.label]"}},
                "detail": {"field": "g", "type": "nominal"}
              }
            },
            {
              "data": {"values": [{}]},
              "mark": {"type": "text", "text": ["USB", "X pol."], "align": "left", "baseline": "alphabetic", "fontSize": 7.6, "lineHeight": 9.4, "color": "#000000"},
              "encoding": {
                "x": {"datum": 2.7, "type": "quantitative", "axis": {"orient": "top", "values": [0, 20, 40, 60, 80, 100, 120], "labels": false, "title": null}},
                "y": {"datum": 0.1093, "type": "quantitative", "axis": {"orient": "right", "values": [0, 0.02, 0.04, 0.06, 0.08, 0.1, 0.12], "labels": false, "title": null}}
              }
            }
          ],
          "resolve": {"axis": {"x": "independent", "y": "independent"}}
        },
        {
          "width": 141.8, "height": 136.6,
          "layer": [
            {
              "data": {"name": "LY"},
              "mark": {"type": "area", "fillOpacity": 0.3, "strokeWidth": 0},
              "encoding": {
                "x": {"field": "c", "type": "quantitative", "scale": {"domain": [-2.4, 128], "nice": false, "zero": false}, "axis": {"orient": "bottom", "values": [0, 20, 40, 60, 80, 100, 120], "title": null}},
                "y": {"field": "l", "type": "quantitative", "scale": {"domain": [-0.005, 0.125], "nice": false, "zero": false}, "axis": {"orient": "left", "values": [0, 0.02, 0.04, 0.06, 0.08, 0.1, 0.12], "labels": false, "title": null}},
                "y2": {"field": "h"},
                "color": {"field": "s", "type": "nominal", "scale": {"domain": ["A", "B", "C", "D", "E", "F", "G", "H"], "range": ["#de4858", "#f58a37", "#fcd78a", "#9b0037", "#d7e182", "#91cd91", "#4696aa", "#6e46aa"]}, "legend": {"title": null, "orient": "none", "legendX": 3.3, "legendY": 91.5, "columns": 3, "labelExpr": "{'A':'GRB251013C: 22 October 2025','B':'GRB221009A: 14 October 2022','C':'GRB221009A: 12 October 2022','D':'GRB191221B: 22 December 2019','E':'GRB220921A: 28 September 2022','F':'GRB190829A: 01 September 2019','G':'GRB190114C: 15 January 2019','H':'GRB190114C: 16 January 2019'}[datum.label]"}},
                "detail": {"field": "g", "type": "nominal"}
              }
            },
            {
              "data": {"values": [{}]},
              "mark": {"type": "text", "text": ["LSB", "Y pol."], "align": "left", "baseline": "alphabetic", "fontSize": 7.6, "lineHeight": 9.4, "color": "#000000"},
              "encoding": {
                "x": {"datum": 2.7, "type": "quantitative", "axis": {"orient": "top", "values": [0, 20, 40, 60, 80, 100, 120], "labels": false, "title": null}},
                "y": {"datum": 0.1093, "type": "quantitative", "axis": {"orient": "right", "values": [0, 0.02, 0.04, 0.06, 0.08, 0.1, 0.12], "labels": false, "title": null}}
              }
            }
          ],
          "resolve": {"axis": {"x": "independent", "y": "independent"}}
        },
        {
          "width": 141.8, "height": 136.6,
          "layer": [
            {
              "data": {"name": "UY"},
              "mark": {"type": "area", "fillOpacity": 0.3, "strokeWidth": 0},
              "encoding": {
                "x": {"field": "c", "type": "quantitative", "scale": {"domain": [-2.4, 128], "nice": false, "zero": false}, "axis": {"orient": "bottom", "values": [0, 20, 40, 60, 80, 100, 120], "title": null}},
                "y": {"field": "l", "type": "quantitative", "scale": {"domain": [-0.005, 0.125], "nice": false, "zero": false}, "axis": {"orient": "left", "values": [0, 0.02, 0.04, 0.06, 0.08, 0.1, 0.12], "labels": false, "title": null}},
                "y2": {"field": "h"},
                "color": {"field": "s", "type": "nominal", "scale": {"domain": ["A", "B", "C", "D", "E", "F", "G", "H"], "range": ["#de4858", "#f58a37", "#fcd78a", "#9b0037", "#d7e182", "#91cd91", "#4696aa", "#6e46aa"]}, "legend": {"title": null, "orient": "none", "legendX": 3.3, "legendY": 91.5, "columns": 3, "labelExpr": "{'A':'GRB251013C: 22 October 2025','B':'GRB221009A: 14 October 2022','C':'GRB221009A: 12 October 2022','D':'GRB191221B: 22 December 2019','E':'GRB220921A: 28 September 2022','F':'GRB190829A: 01 September 2019','G':'GRB190114C: 15 January 2019','H':'GRB190114C: 16 January 2019'}[datum.label]"}},
                "detail": {"field": "g", "type": "nominal"}
              }
            },
            {
              "data": {"values": [{}]},
              "mark": {"type": "text", "text": ["USB", "Y pol."], "align": "left", "baseline": "alphabetic", "fontSize": 7.6, "lineHeight": 9.4, "color": "#000000"},
              "encoding": {
                "x": {"datum": 2.7, "type": "quantitative", "axis": {"orient": "top", "values": [0, 20, 40, 60, 80, 100, 120], "labels": false, "title": null}},
                "y": {"datum": 0.1093, "type": "quantitative", "axis": {"orient": "right", "values": [0, 0.02, 0.04, 0.06, 0.08, 0.1, 0.12], "labels": false, "title": null}}
              }
            }
          ],
          "resolve": {"axis": {"x": "independent", "y": "independent"}}
        }
      ]
    },
    {"width": 600, "height": 3, "view": {"stroke": null}, "data": {"values": []}, "mark": "rect", "encoding": {}},
    {"width": 600, "height": 91, "view": {"fill": "black", "stroke": null}, "data": {"values": []}, "mark": "rect", "encoding": {}}
  ]
}
